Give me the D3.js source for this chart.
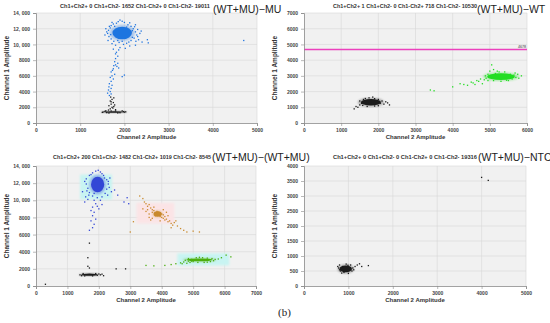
<!DOCTYPE html>
<html>
<head>
<meta charset="utf-8">
<script src="https://cdn.jsdelivr.net/npm/d3@7"></script>
<style>
  body { margin: 0; background: #fff; }
  svg { display: block; font-family: "Liberation Sans", Arial, sans-serif; }
</style>
</head>
<body>
<div id="chart"></div>
<script>
// ---- data (droplet amplitudes) ----
const counts = [
  "Ch1+Ch2+ 0  Ch1+Ch2- 1652  Ch1-Ch2+ 0  Ch1-Ch2- 19011",
  "Ch1+Ch2+ 1  Ch1+Ch2- 0  Ch1-Ch2+ 718  Ch1-Ch2- 10530",
  "Ch1+Ch2+ 200  Ch1+Ch2- 1482  Ch1-Ch2+ 1019  Ch1-Ch2- 8545",
  "Ch1+Ch2+ 0  Ch1+Ch2- 0  Ch1-Ch2+ 0  Ch1-Ch2- 19316"
];
const sampleNames = ["(WT+MU)\u2212MU", "(WT+MU)\u2212WT", "(WT+MU)\u2212(WT+MU)", "(WT+MU)\u2212NTC"];

const xTicks5 = [0, 1000, 2000, 3000, 4000, 5000];
const xTicks6 = [0, 1000, 2000, 3000, 4000, 5000, 6000];
const xTicks7 = [0, 1000, 2000, 3000, 4000, 5000, 6000, 7000];
const yTicks14 = [0, 2000, 4000, 6000, 8000, 10000, 12000, 14000];
const yLabels14 = ["0", "2000", "4000", "6000", "8000", "10, 000", "12, 000", "14, 000"];
const yTicks7 = [0, 1000, 2000, 3000, 4000, 5000, 6000, 7000];
const yTicks4 = [0, 500, 1000, 1500, 2000, 2500, 3000, 3500, 4000];

const threshold2 = 4678;

// dense cluster cores: [centre ch2, centre ch1, half-width ch2, half-height ch1]
const p1BlueCore = [1950, 11450, 220, 800];
const p1BlackCore = [1760, 1400, 230, 100];
const p2BlackCore = [1800, 1320, 270, 210];
const p2GreenCore = [5300, 2950, 370, 210];
const p3BlueCore = [1960, 11850, 210, 900];
const p3OrangeCore = [3870, 8400, 130, 320];
const p3GreenCore = [5200, 3050, 410, 170];
const p3BlackCore = [1700, 1320, 260, 130];
const p4BlackCore = [940, 570, 140, 115];

// shaded gates in panel 3: [x0, x1, y0, y1]
const p3Gates = [
  [1400, 2420, 10100, 13000],
  [3200, 4400, 7300, 9700],
  [4500, 6150, 2400, 3800]
];

const p1Blue = [[1700,12400],[1750,12600],[1820,12700],[1950,12950],[2000,12800],[2080,12500],[2150,12300],
  [2200,12000],[2250,11600],[2280,11200],[2220,10800],[2150,10500],[2100,10300],[1950,10400],[1850,10500],
  [1700,10700],[1650,11000],[1620,11400],[1640,11800],[1680,12100],[2300,11900],[2350,11400],[2050,12200],
  [1780,12300],[1600,11600],[2180,10900],[2400,10300],[2520,10600],[2540,10200],[2120,9800],[2020,9500],
  [1900,9600],[1800,9900],[1750,9400],[4700,10500],[2000,6100],[1950,5900],[1820,9000],[1850,8500],
  [1800,8200],[1780,7800],[1850,7600],[1800,7400],[1760,7300],[1830,7200],[1750,6900],[1700,6500],
  [1780,6200],[1720,6000],[1680,5800],[1750,5600],[1700,5300],[1660,5000],[1720,4800],[1650,4600],
  [1700,4400],[1640,4200],[1680,4000],[1620,3800],[1700,3700],[1660,3500],[1800,8800],[1870,7000],
  [1730,6700],[2250,12500],[1580,12000],[2320,10600],[1900,13100],[1720,12800],[1860,12900],[2120,12750],
  [2230,12250],[2300,11000],[2260,10400],[2050,10150],[1880,10250],[1760,10400],[1690,11250],[1660,12300],
  [2180,11750],[2380,11700],[1980,10000],[1870,9300],[1720,10100],[2250,9900],[1630,10500],[1560,11200]];
const p1Black = [[1520,1400],[1560,1480],[1980,1450],[2000,1380],[1600,1320],[1900,1310],[1700,1530],
  [1800,1540],[1680,1800],[1720,2000],[1650,2200],[1700,2400],[1750,2600],[1680,2800],[1720,3000],
  [1760,3200],[1690,3300],[1740,1900],[1780,2300],[1640,1650],[1800,1700],[1500,1350],[2030,1420],
  [1580,1550],[1950,1540],[1850,1280],[1650,1270],[1760,2100],[1700,2700]];

const p2Black = [[1350,900],[1400,1050],[1500,1150],[2050,1250],[2150,1200],[2300,1150],[2200,1350],
  [1600,1500],[1750,1600],[1900,1550],[1550,1250],[2000,1500],[1450,1000],[2100,1400],[1500,1400],
  [1650,1560],[1850,1650],[2000,1100],[1700,1050],[1580,1120],[2250,1280],[1900,1080]];
const p2Green = [[3400,2100],[3500,2050],[4000,2300],[4200,2500],[4300,2450],[4500,2600],[4550,2550],
  [4650,2700],[4700,2650],[4750,2800],[4800,2500],[4850,2750],[4900,2850],[4950,2700],[5000,3000],
  [5000,3300],[5050,3700],[5100,3400],[5200,3300],[5400,3250],[5550,3100],[5650,3050],[5700,2900],
  [5600,2800],[5500,2700],[5300,2650],[5100,2700],[4950,3100],[5750,3100],[5050,2850],[4400,2400],
  [4600,2450],[5850,3000],[5250,3250],[5450,2720],[5680,3180],[4880,3000],[5150,3150],[5780,2850]];

const p3Blue = [[1600,12500],[1700,12900],[1800,13200],[1900,13400],[2050,13300],[2150,12900],[2250,12400],
  [2300,11900],[2250,11300],[2200,10800],[2100,10400],[1950,10300],[1800,10500],[1700,10900],[1650,11400],
  [1600,11900],[2400,11000],[2500,11200],[2600,10600],[2800,9800],[2900,10300],[2950,9600],[1850,10000],
  [1900,9600],[1800,9200],[1950,9300],[1750,8800],[1850,8600],[1800,8200],[1900,7800],[1750,7600],
  [1850,7200],[1800,6800],[1700,6500],[1550,9800],[1650,10100],[2050,10000],[2100,9500],[2000,9000],
  [1550,12200],[2350,12600],[1480,11000],[1750,13000],[2100,13100],[2300,12200],[2280,10600],
  [1680,10600],[1620,11100],[2180,12600],[1980,13500],[1850,10800],[2330,11500],[1580,10400]];
const p3Orange = [[3300,10500],[3400,10200],[3450,9800],[3500,9600],[3550,9300],[3600,9500],[3650,9100],
  [3700,8900],[3700,8600],[3750,8800],[3800,8500],[3800,8200],[3850,8700],[3850,8400],[3900,8300],
  [3900,8600],[3950,8500],[3950,8100],[4000,8400],[4000,8000],[4050,8300],[4050,7900],[4100,8100],
  [4100,7700],[4150,7800],[4200,7500],[4250,7600],[4300,7300],[4350,7100],[4400,7400],[4500,7000],
  [4600,6700],[4700,6500],[4800,6300],[5000,6400],[5200,6300],[3500,8700],[3600,8000],[3400,9000],
  [3100,7500],[3000,6300],[3650,7700],[4300,6800],[3550,8900],[3750,9200],[4150,8600],[4200,8200],
  [3700,7900],[3950,7600],[4450,7600],[3600,8400],[4050,8900]];
const p3Green = [[3500,2400],[3750,2350],[4100,2400],[4300,2500],[4450,2600],[4600,2700],[4700,2800],
  [4800,2650],[4850,2900],[4900,2750],[4950,3100],[5000,2850],[5100,3300],[5300,3300],[5450,3250],
  [5600,3200],[5700,3100],[5800,3150],[5900,3300],[6050,3600],[6200,3400],[5550,2850],[5350,2750],
  [5150,2750],[4750,3000],[4650,2600],[4850,3200],[5200,3350],[5650,2950],[5450,2780],[4950,2900]];
const p3Black = [[1400,1300],[1450,1200],[2000,1400],[2050,1300],[2150,1200],[1650,2300],[1700,2100],
  [1650,3300],[1700,5000],[300,200],[2550,2000],[2850,2000],[1500,1450],[1900,1450],[1800,1180],
  [1550,1180],[1950,1250],[2100,1380]];

const p4Black = [[800,700],[780,600],[820,500],[900,450],[1000,420],[1080,500],[1100,600],[1050,700],
  [950,730],[1200,700],[1250,740],[1450,680],[1300,650],[4000,3620],[4150,3520],[870,650],[760,650],
  [1120,540],[990,690],[850,430],[1150,650],[800,540]];

// ---- drawing ----
const colors = {
  blue: "#1f74e0", green: "#22dd22", black: "#1a1a1a",
  blue3: "#3346d6", orange3: "#c98a2e", green3: "#4caf10"
};

const svg = d3.select("#chart").append("svg")
  .attr("width", 550)
  .attr("height", 323);

const defs = svg.append("defs");
defs.append("filter").attr("id", "soft")
  .append("feGaussianBlur").attr("stdDeviation", 0.8);
defs.append("filter").attr("id", "soft2")
  .append("feGaussianBlur").attr("stdDeviation", 0.5);

function drawPanel(p) {
  const x = d3.scaleLinear().domain([0, p.xTicks[p.xTicks.length - 1]]).range([p.left, p.right]);
  const y = d3.scaleLinear().domain([0, p.yTicks[p.yTicks.length - 1]]).range([p.bottom, p.top]);
  const g = svg.append("g");

  g.append("rect")
    .attr("x", p.left).attr("y", p.top)
    .attr("width", p.right - p.left).attr("height", p.bottom - p.top)
    .attr("fill", "#f1f1f1");

  g.selectAll(".vgrid").data(p.xTicks.slice(1)).join("line")
    .attr("x1", d => x(d)).attr("x2", d => x(d))
    .attr("y1", p.top).attr("y2", p.bottom)
    .attr("stroke", "#d6d6d6").attr("stroke-width", 0.6);
  g.selectAll(".hgrid").data(p.yTicks.slice(1)).join("line")
    .attr("y1", d => y(d)).attr("y2", d => y(d))
    .attr("x1", p.left).attr("x2", p.right)
    .attr("stroke", "#d6d6d6").attr("stroke-width", 0.6);

  (p.gates || []).forEach((gt, i) => {
    g.append("rect")
      .attr("x", x(gt[0])).attr("y", y(gt[3]))
      .attr("width", x(gt[1]) - x(gt[0])).attr("height", y(gt[2]) - y(gt[3]))
      .attr("fill", p.gateColors[i]).attr("filter", "url(#soft)");
  });

  p.clusters.forEach(c => {
    const [cx, cy, rx, ry] = c.core;
    // halo of sparser droplets, then the dense core
    g.append("ellipse")
      .attr("cx", x(cx)).attr("cy", y(cy))
      .attr("rx", (x(cx + rx) - x(cx)) * 1.3).attr("ry", (y(cy) - y(cy + ry)) * 1.3)
      .attr("fill", c.color).attr("opacity", 0.35).attr("filter", "url(#soft)");
    g.append("ellipse")
      .attr("cx", x(cx)).attr("cy", y(cy))
      .attr("rx", x(cx + rx) - x(cx)).attr("ry", y(cy) - y(cy + ry))
      .attr("fill", c.color).attr("filter", "url(#soft2)");
    g.selectAll(null).data(c.points).join("rect")
      .attr("x", d => x(d[0]) - 0.65).attr("y", d => y(d[1]) - 0.65)
      .attr("width", 1.3).attr("height", 1.3)
      .attr("fill", c.color);
  });

  if (p.threshold) {
    g.append("line")
      .attr("x1", p.left).attr("x2", p.right)
      .attr("y1", y(p.threshold)).attr("y2", y(p.threshold))
      .attr("stroke", "#ec40bd").attr("stroke-width", 1.5);
    g.append("text")
      .attr("x", p.right - 1).attr("y", y(p.threshold) - 1.5)
      .attr("text-anchor", "end").attr("font-size", 3.6)
      .attr("fill", "#333").text(p.threshold);
  }

  const xAxis = g.append("g")
    .attr("transform", `translate(0,${p.bottom})`)
    .call(d3.axisBottom(x).tickValues(p.xTicks).tickSize(3).tickFormat(d => d));
  const yAxis = g.append("g")
    .attr("transform", `translate(${p.left},0)`)
    .call(d3.axisLeft(y).tickValues(p.yTicks).tickSize(3)
      .tickFormat((d, i) => p.yLabels ? p.yLabels[i] : d));
  [xAxis, yAxis].forEach(a => {
    a.select(".domain").attr("stroke", "#8a8a8a").attr("stroke-width", 0.8);
    a.selectAll(".tick line").attr("stroke", "#8a8a8a").attr("stroke-width", 0.6);
    a.selectAll(".tick text").attr("font-size", 5).attr("font-weight", "bold")
      .attr("fill", "#444").attr("font-family", "Liberation Sans, Arial, sans-serif");
  });
  xAxis.selectAll(".tick text").attr("dy", "0.5em");

  g.append("text")
    .attr("x", (p.left + p.right) / 2).attr("y", p.bottom + 16)
    .attr("text-anchor", "middle").attr("font-size", 6).attr("font-weight", "bold")
    .attr("fill", "#333").text("Channel 2 Amplitude");
  g.append("text")
    .attr("transform", `translate(${p.left - 27},${(p.top + p.bottom) / 2}) rotate(-90)`)
    .attr("text-anchor", "middle").attr("font-size", 6.5).attr("font-weight", "bold")
    .attr("fill", "#333").text("Channel 1 Amplitude");

  g.append("text")
    .attr("x", p.titleX).attr("y", p.titleY)
    .attr("font-size", 5).attr("font-weight", "bold").attr("fill", "#333")
    .attr("textLength", p.titleW).attr("lengthAdjust", "spacingAndGlyphs")
    .text(p.counts);
  g.append("text")
    .attr("x", p.nameX).attr("y", p.nameY)
    .attr("font-size", 10.5).attr("fill", "#222")
    .text(p.name);
}

drawPanel({
  left: 36, right: 257, top: 13, bottom: 123,
  xTicks: xTicks5, yTicks: yTicks14, yLabels: yLabels14,
  counts: counts[0], titleX: 60, titleY: 8, titleW: 150,
  name: sampleNames[0], nameX: 213, nameY: 12.5,
  clusters: [
    { core: p1BlackCore, points: p1Black, color: colors.black },
    { core: p1BlueCore, points: p1Blue, color: colors.blue }
  ]
});

drawPanel({
  left: 304, right: 527, top: 13, bottom: 123,
  xTicks: xTicks6, yTicks: yTicks7,
  counts: counts[1], titleX: 333, titleY: 8, titleW: 144,
  name: sampleNames[1], nameX: 477, nameY: 12.5,
  threshold: threshold2,
  clusters: [
    { core: p2BlackCore, points: p2Black, color: colors.black },
    { core: p2GreenCore, points: p2Green, color: colors.green }
  ]
});

drawPanel({
  left: 36, right: 256, top: 166, bottom: 286,
  xTicks: xTicks7, yTicks: yTicks14, yLabels: yLabels14,
  counts: counts[2], titleX: 53, titleY: 159, titleW: 158,
  name: sampleNames[2], nameX: 212, nameY: 161,
  gates: p3Gates, gateColors: ["#c8f4f2", "#fbe4e6", "#c8f4f2"],
  clusters: [
    { core: p3BlackCore, points: p3Black, color: colors.black },
    { core: p3BlueCore, points: p3Blue, color: colors.blue3 },
    { core: p3OrangeCore, points: p3Orange, color: colors.orange3 },
    { core: p3GreenCore, points: p3Green, color: colors.green3 }
  ]
});

drawPanel({
  left: 304, right: 526, top: 166, bottom: 286,
  xTicks: xTicks5, yTicks: yTicks4,
  counts: counts[3], titleX: 333, titleY: 159, titleW: 144,
  name: sampleNames[3], nameX: 478, nameY: 161,
  clusters: [
    { core: p4BlackCore, points: p4Black, color: colors.black }
  ]
});

svg.append("text")
  .attr("x", 278).attr("y", 316)
  .attr("font-family", "Liberation Serif, Times New Roman, serif")
  .attr("font-size", 11).attr("fill", "#222")
  .text("(b)");
</script>
</body>
</html>
